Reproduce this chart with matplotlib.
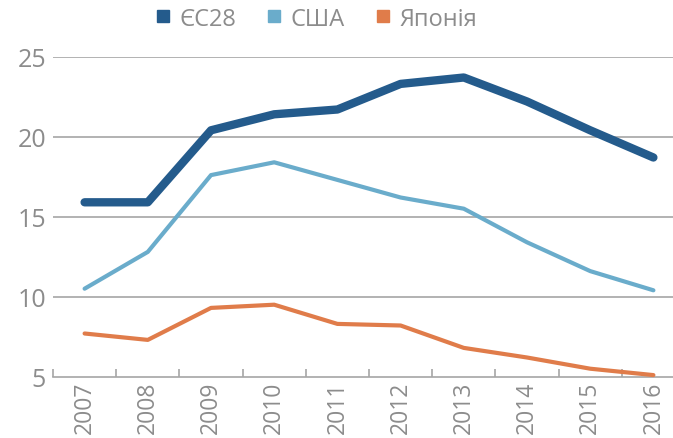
import matplotlib
matplotlib.use("Agg")
import matplotlib.pyplot as plt
from matplotlib.lines import Line2D

years = ["2007", "2008", "2009", "2010", "2011", "2012", "2013", "2014", "2015", "2016"]
eu28 = [15.9, 15.9, 20.4, 21.4, 21.7, 23.3, 23.7, 22.2, 20.4, 18.7]
usa = [10.5, 12.8, 17.6, 18.4, 17.3, 16.2, 15.5, 13.4, 11.6, 10.4]
japan = [7.7, 7.3, 9.3, 9.5, 8.3, 8.2, 6.8, 6.2, 5.5, 5.1]
series_names = ["ЄС28", "США", "Японія"]
colors = ["#245b8c", "#6aaccb", "#e07c4a"]
widths = [6.0, 3.0, 3.0]
yticks = [5, 10, 15, 20, 25]

plt.rcParams['font.family'] = ['Open Sans', 'DejaVu Sans']
gray = "#8c8c8c"
gridc = "#a6a6a6"

fig = plt.figure(figsize=(6.73, 4.39), dpi=100)
ax = fig.add_axes([53/673, (439-377.7)/439, (673-53)/673, (377.7-57.7)/439])

x = list(range(len(years)))
for vals, c, w in zip([eu28, usa, japan], colors, widths):
    ax.plot(x, vals, color=c, lw=w, solid_capstyle='round', solid_joinstyle='round',
            clip_on=False, zorder=3)

ax.set_xlim(-0.5, -0.5 + 620/63.2)
ax.set_ylim(5, 25)
ax.set_yticks(yticks)
ax.set_yticklabels([str(v) for v in yticks], color=gray, fontsize=18)
ax.tick_params(axis='y', length=0, pad=5)
for v in yticks[1:]:
    ax.axhline(v, color=gridc, lw=1.2, zorder=1)

ax.set_xticks(x)
ax.set_xticklabels(years, rotation=90, color=gray, fontsize=16.5)
ax.tick_params(axis='x', length=0, pad=3)
ax.set_xticks([i - 0.5 for i in range(len(years))], minor=True)
ax.tick_params(axis='x', which='minor', length=6, color=gridc, width=1.2, direction='in')

for s in ['top', 'right', 'left']:
    ax.spines[s].set_visible(False)
ax.spines['bottom'].set_color(gridc)
ax.spines['bottom'].set_linewidth(1.2)

handles = [Line2D([], [], marker='s', color=c, linestyle='none', markersize=9) for c in colors]
fig.legend(handles, series_names, loc='center', bbox_to_anchor=(0.467, 0.955), ncol=3,
           frameon=False, fontsize=17, labelcolor=gray, handletextpad=0.2,
           columnspacing=1.1, handlelength=1.0)

fig.savefig("out.png", dpi=100)
